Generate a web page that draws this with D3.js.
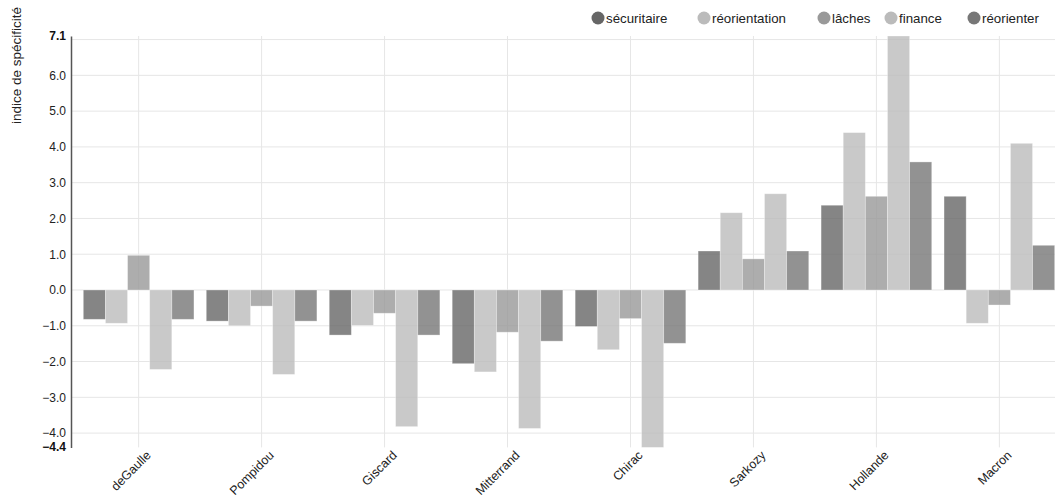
<!DOCTYPE html>
<html>
<head>
<meta charset="utf-8">
<script src="https://cdn.jsdelivr.net/npm/d3@7"></script>
<style>
  html, body { margin: 0; padding: 0; background: #fff; }
  svg { display: block; font-family: "Liberation Sans", Arial, Helvetica, sans-serif; }
</style>
</head>
<body>
<svg id="chart" width="1055" height="499"></svg>
<script>
const categories = ["deGaulle", "Pompidou", "Giscard", "Mitterrand", "Chirac", "Sarkozy", "Hollande", "Macron"];
const seriesNames = ["sécuritaire", "réorientation", "lâches", "finance", "réorienter"];
const securitaire   = [-0.82, -0.87, -1.26, -2.06, -1.02, 1.09, 2.37, 2.62];
const reorientation = [-0.93, -1.00, -0.99, -2.29, -1.67, 2.16, 4.40, -0.93];
const laches        = [0.97, -0.45, -0.65, -1.18, -0.80, 0.87, 2.62, -0.42];
const finance       = [-2.22, -2.36, -3.82, -3.87, -4.40, 2.69, 7.10, 4.10];
const reorienter    = [-0.82, -0.87, -1.26, -1.43, -1.49, 1.09, 3.58, 1.25];
const seriesColors  = ["#666666", "#bbbbbb", "#999999", "#bbbbbb", "#777777"];
const yTicks = [-4, -3, -2, -1, 0, 1, 2, 3, 4, 5, 6];
const yGridTicks = [-4, -3, -2, -1, 0, 1, 2, 3, 4, 5, 6, 7];
const yMin = -4.4, yMax = 7.1;

const seriesValues = [securitaire, reorientation, laches, finance, reorienter];

const svg = d3.select("#chart");
const mLeft = 71, mTop = 36, mBottom = 447.4;

const y = d3.scaleLinear().domain([yMin, yMax]).range([mBottom, mTop]);
const x0 = d3.scaleBand().domain(categories).range([mLeft, 1067]).paddingInner(0.1).paddingOuter(0.1);
const x1 = d3.scaleBand().domain(seriesNames).range([0, x0.bandwidth()]);

// horizontal grid
svg.append("g").selectAll("line").data(yGridTicks).join("line")
  .attr("x1", mLeft).attr("x2", 1055)
  .attr("y1", d => y(d)).attr("y2", d => y(d))
  .attr("stroke", "#e6e6e6").attr("stroke-width", 1);

// vertical grid at category centers
svg.append("g").selectAll("line").data(categories).join("line")
  .attr("x1", d => x0(d) + x0.bandwidth() / 2).attr("x2", d => x0(d) + x0.bandwidth() / 2)
  .attr("y1", mTop).attr("y2", mBottom)
  .attr("stroke", "#e6e6e6").attr("stroke-width", 1);

// bars
const groups = svg.append("g").selectAll("g").data(categories).join("g")
  .attr("transform", d => `translate(${x0(d)},0)`);
groups.selectAll("rect")
  .data((c, ci) => seriesNames.map((s, si) => ({ s, si, v: seriesValues[si][ci] })))
  .join("rect")
  .attr("x", d => x1(d.s))
  .attr("width", x1.bandwidth())
  .attr("y", d => y(Math.max(0, d.v)))
  .attr("height", d => Math.abs(y(d.v) - y(0)))
  .attr("fill", d => seriesColors[d.si])
  .attr("fill-opacity", 0.8)
  .attr("stroke", "#ffffff").attr("stroke-opacity", 0.4).attr("stroke-width", 0.8);

// y axis
const yAxis = d3.axisLeft(y).tickValues(yTicks).tickSize(0).tickPadding(5).tickFormat(d3.format(".1f"));
const yg = svg.append("g").attr("transform", `translate(${mLeft},0)`).call(yAxis);
yg.select(".domain").attr("stroke", "#555").attr("stroke-width", 1.5);
yg.selectAll("text").attr("font-size", 12).attr("fill", "#222").attr("font-family", "Liberation Sans, Arial, sans-serif");
// extremes in bold
[yMax, yMin].forEach(v => {
  svg.append("text").attr("x", mLeft - 5).attr("y", y(v)).attr("dy", "0.32em")
    .attr("text-anchor", "end").attr("font-size", 12).attr("font-weight", "bold")
    .attr("fill", "#111").text(d3.format(".1f")(v));
});

// y label
svg.append("text").attr("transform", "rotate(-90)")
  .attr("x", -7).attr("y", 21).attr("text-anchor", "end")
  .attr("font-size", 13.5).attr("fill", "#222").text("indice de spécificité");

// x labels
svg.append("g").selectAll("text").data(categories).join("text")
  .attr("transform", d => `translate(${x0(d) + x0.bandwidth() / 2 + 13},${456}) rotate(-45)`)
  .attr("text-anchor", "end").attr("font-size", 12.5).attr("fill", "#222").text(d => d);

// legend
const legendX = [598, 704, 824, 891, 974];
const lg = svg.append("g").selectAll("g").data(seriesNames).join("g")
  .attr("transform", (d, i) => `translate(${legendX[i]},18)`);
lg.append("circle").attr("r", 6.5).attr("fill", (d, i) => seriesColors[i]);
lg.append("text").attr("x", 8).attr("dy", "0.35em").attr("font-size", 13.3).attr("fill", "#222").text(d => d);
</script>
</body>
</html>
